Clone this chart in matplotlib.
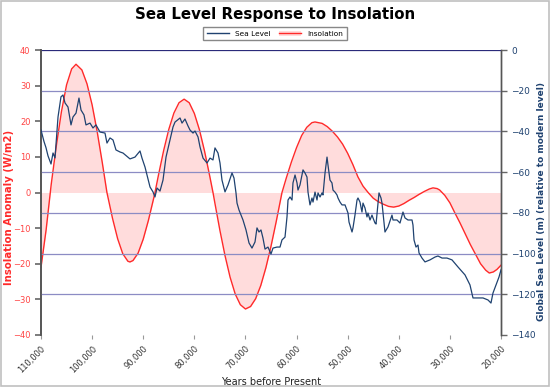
import matplotlib
matplotlib.use("Agg")
import matplotlib.pyplot as plt
from matplotlib.patches import Rectangle, Patch
from matplotlib.lines import Line2D
from matplotlib.ticker import FuncFormatter

# Insolation anomaly (W/m2)
ins_years = [110000, 109000, 108000, 107000, 106000, 105000, 104000, 103150, 102000,
             101000, 100000, 99000, 98000, 97100, 96000, 95000, 94000, 93000, 92600,
             92000, 91000, 90000, 89000, 88000, 87700, 87000, 86000, 85000, 84000,
             83000, 82000, 81000, 80000, 79000, 78000, 77000, 76350, 76000, 75000,
             74000, 73000, 72000, 71000, 70000, 69000, 68000, 67000, 66000, 65000,
             64000, 63000, 62850, 62000, 61000, 60000, 59000, 58000, 57000, 56400,
             55000, 54000, 53000, 52000, 51000, 50000, 49000, 48000, 47000, 46000,
             45000, 44000, 43000, 42000, 41000, 40000, 39000, 38000, 37000, 36000,
             35000, 34000, 33300, 32500, 32000, 31000, 30000, 29000, 28000, 27000,
             26000, 25000, 24000, 23000, 22300, 21500, 20800, 20000]
ins_vals = [-21.0, -10.5, 2.3, 13.1, 22.7, 30.2, 34.7, 36.0, 34.4,
            30.5, 24.6, 17.0, 8.3, 0.0, -7.3, -13.0, -17.2, -19.3, -19.5,
            -19.1, -17.0, -13.1, -7.9, -1.9, 0.0, 5.0, 11.8, 17.7, 22.3,
            25.2, 26.2, 25.2, 22.2, 17.6, 11.6, 4.7, 0.0, -2.8, -10.6,
            -17.7, -23.8, -28.5, -31.5, -32.7, -32.0, -29.8, -26.1, -21.1, -15.1,
            -8.3, -1.1, 0.0, 4.1, 8.6, 12.6, 16.0, 18.3, 19.6, 19.8,
            19.4, 18.5, 17.2, 15.6, 13.6, 11.0, 7.9, 4.4, 1.8, 0.0,
            -1.6, -2.6, -3.3, -3.9, -4.1, -3.8, -3.1, -2.2, -1.4, -0.5,
            0.3, 1.0, 1.3, 1.1, 0.7, -0.8, -2.9, -5.8, -8.6, -11.6,
            -14.6, -17.3, -20.0, -21.8, -22.6, -22.3, -21.6, -20.4]

# Global sea level (m relative to modern)
sea_years = [110000, 109410, 109020, 108630, 108040, 107650, 107260, 106870, 106670,
             106090, 105700, 105300, 104720, 104130, 103740, 103150, 102570, 102170,
             101590, 101200, 100410, 99830, 99240, 98460, 97480, 97090, 96500, 95910,
             95330, 94540, 93960, 92590, 91610, 90630, 90240, 89650, 88670, 88090,
             87700, 87300, 86720, 86130, 85540, 84760, 84170, 83780, 82800, 82410,
             81830, 81240, 80850, 80260, 79870, 79280, 78890, 78300, 77520, 76930,
             76350, 75960, 75370, 74980, 74590, 74000, 73410, 72630, 72240, 71850,
             71650, 71260, 70480, 69890, 69300, 68720, 68130, 67740, 67350, 66960,
             66570, 66170, 65590, 65000, 64610, 63830, 63240, 62850, 62260, 61870,
             61670, 61280, 60890, 60700, 60300, 59910, 59720, 59330, 58930, 58740,
             58350, 57960, 57760, 57370, 56980, 56780, 56390, 56000, 55800, 55410,
             55020, 54830, 54430, 54040, 53850, 53460, 53070, 52870, 52480, 52090,
             51890, 51500, 51110, 50520, 49930, 49740, 49150, 48960, 48570, 48170,
             47980, 47590, 47200, 47000, 46610, 46220, 46020, 45630, 45240, 45040,
             44650, 44450, 43870, 43480, 43280, 42700, 42110, 41330, 41130, 40350,
             39760, 39180, 38780, 38200, 37410, 37220, 37020, 36630, 36240, 36040,
             35460, 34870, 33890, 32910, 32330, 31540, 30570, 29590, 28410, 27040,
             26070, 25480, 24500, 23520, 22540, 21960, 21570, 20980, 20390, 20000]
sea_vals = [-39.3, -45.0, -48.0, -52.0, -56.0, -50.6, -53.0, -39.3, -32.9,
            -23.0, -22.1, -26.0, -28.0, -36.8, -32.9, -31.0, -23.6, -29.5,
            -31.9, -36.8, -35.9, -38.3, -36.8, -40.3, -40.8, -45.7, -43.2, -44.2,
            -49.1, -50.1, -50.6, -53.5, -52.6, -49.6, -53.1, -57.5, -67.3, -69.7,
            -72.2, -67.8, -69.3, -63.9, -52.6, -44.2, -37.8, -35.4, -33.4, -35.9,
            -33.9, -37.3, -39.3, -40.8, -39.8, -42.7, -47.6, -53.1, -55.5, -53.1,
            -54.0, -48.1, -50.6, -55.5, -63.9, -69.7, -66.3, -60.4, -62.9, -70.2,
            -75.2, -78.6, -83.5, -88.4, -94.8, -97.3, -94.3, -87.4, -89.4, -88.4,
            -92.4, -97.8, -96.8, -100.2, -97.3, -96.8, -96.8, -93.3, -91.9, -82.0,
            -73.7, -72.2, -73.7, -65.3, -61.4, -65.3, -68.8, -66.3, -61.4, -58.9,
            -60.4, -62.4, -69.8, -76.1, -72.7, -74.7, -69.8, -73.7, -70.2, -72.2,
            -70.2, -71.2, -60.4, -52.6, -56.5, -63.9, -65.3, -68.8, -69.8, -71.2,
            -72.7, -74.7, -76.1, -76.1, -80.1, -84.5, -89.4, -87.4, -81.1, -73.7,
            -72.7, -74.7, -79.6, -75.2, -77.6, -82.0, -80.1, -83.5, -81.1, -82.5,
            -85.0, -85.5, -70.2, -72.7, -75.2, -89.4, -86.9, -81.1, -83.5, -83.5,
            -85.0, -79.6, -82.5, -83.5, -83.5, -86.0, -93.3, -96.8, -95.8, -99.7,
            -102.2, -104.1, -103.1, -101.7, -101.2, -102.2, -102.2, -103.1, -106.6, -110.5,
            -115.4, -121.8, -121.8, -121.8, -122.8, -124.3, -119.4, -115.4, -111.5, -108.0]

x_ticks = [110000, 100000, 90000, 80000, 70000, 60000, 50000, 40000, 30000, 20000]
left_ticks = [-40, -30, -20, -10, 0, 10, 20, 30, 40]
right_ticks = [0, -20, -40, -60, -80, -100, -120, -140]

red = "#ff2a2a"
pink = "#ffdcdc"
navy = "#1f4270"
grid_c = "#8c8cc4"

fig = plt.figure(figsize=(5.5, 3.87), dpi=100)
fig.patches.append(Rectangle((0.002, 0.002), 0.996, 0.996, transform=fig.transFigure,
                             fill=False, edgecolor="#c0c0c0", linewidth=1.2))

ax1 = fig.add_axes([41 / 550, 52 / 387, 460 / 550, 285 / 387])
ax2 = ax1.twinx()

# insolation on left axis
ax1.fill_between(ins_years, ins_vals, 0, color=pink, linewidth=0)
ax1.plot(ins_years, ins_vals, color=red, linewidth=1.0)
ax1.set_ylim(-40, 40)
ax1.set_xlim(110000, 20000)
ax1.set_yticks(left_ticks)
ax1.set_xticks(x_ticks)
ax1.xaxis.set_major_formatter(FuncFormatter(lambda v, p: f"{int(v):,}"))
ax1.tick_params(axis="y", colors="#666666", labelcolor="#ff4444", labelsize=6, length=4, width=1.2)
ax1.tick_params(axis="x", colors="#999999", labelcolor="#333333", labelsize=6, length=3,
                labelrotation=45)
for lbl in ax1.get_xticklabels():
    lbl.set_ha("right")
    lbl.set_rotation_mode("anchor")
ax1.set_ylabel("Insolation Anomaly (W/m2)", color=red, fontsize=7.3, fontweight="bold")
ax1.yaxis.set_label_coords(-0.059, 0.449)
ax1.set_xlabel("Years before Present", fontsize=7, color="#222222")
ax1.xaxis.set_label_coords(0.5, -0.147)

# sea level on right axis
for t in right_ticks[:-1]:
    ax2.axhline(t, color=grid_c if t != 0 else "#2a2a7a", linewidth=0.9, zorder=0)
ax2.plot(sea_years, sea_vals, color=navy, linewidth=0.9, zorder=3)
ax2.set_ylim(-140, 0)
ax2.set_yticks(right_ticks)
ax2.yaxis.set_major_formatter(FuncFormatter(lambda v, p: f"\u2212{abs(int(v))}" if v < 0 else "0"))
ax2.tick_params(axis="y", colors="#666666", labelcolor=navy, labelsize=6.5, length=4, width=1.0)
ax2.set_ylabel("Global Sea Level (m) (relative to modern level)", color=navy, fontsize=6.5,
               fontweight="bold")
ax2.yaxis.set_label_coords(1.078, 0.467)

for ax in (ax1, ax2):
    ax.spines["top"].set_visible(False)
    ax.spines["bottom"].set_visible(False)
    ax.spines["left"].set_color("#555555")
    ax.spines["right"].set_color("#555555")
    ax.spines["left"].set_linewidth(1.2)
    ax.spines["right"].set_linewidth(1.0)

fig.text(0.5, 0.963, "Sea Level Response to Insolation", ha="center", va="center",
         fontsize=10.8, fontweight="bold")

handles = [Line2D([], [], color=navy, linewidth=1.0),
           (Patch(facecolor=pink, edgecolor="none"), Line2D([], [], color=red, linewidth=1.0))]
fig.legend(handles, ["Sea Level", "Insolation"], loc="center", bbox_to_anchor=(0.5, 0.913),
           ncol=2, fontsize=5.3, frameon=True, fancybox=False, edgecolor="#888888",
           handlelength=3.0, columnspacing=1.2, borderpad=0.5, framealpha=1)

fig.savefig("out.png", dpi=100)
